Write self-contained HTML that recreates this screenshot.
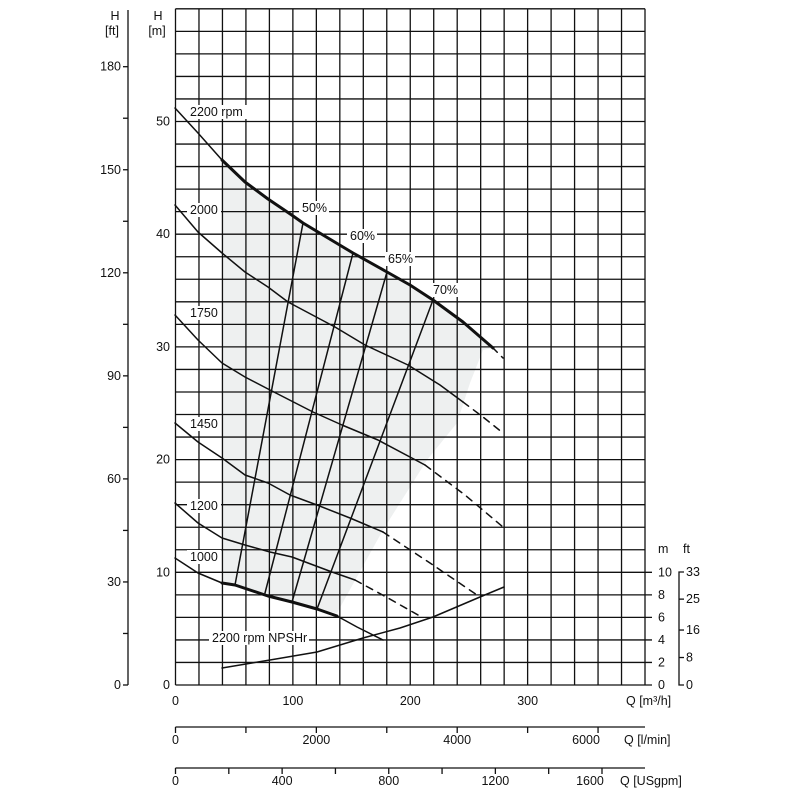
<!DOCTYPE html>
<html><head><meta charset="utf-8"><style>
html,body{margin:0;padding:0;background:#fff;}
svg{display:block;font-family:"Liberation Sans",Arial,sans-serif;font-size:12.5px;fill:#111;}
</style></head><body>
<svg width="800" height="800" viewBox="0 0 800 800" xmlns="http://www.w3.org/2000/svg">
<path d="M222,160 L245,182 L291.7,215 L303,223 L353,253 L387,272 L433,300 L493,348 L483,350 L470,383 L457,423 L427,460 L383,530 L337,613 L317,609 L292,602 L268,596 L235,585 L222,583 Z" fill="#eef0f0" stroke="none"/>
<g id="grid" stroke="#111" stroke-width="1.3"></g>
<g id="lab"></g>
<g fill="none" stroke="#111" stroke-linejoin="round" stroke-linecap="round">
<polyline stroke-width="1.5" points="175,108 198,133 222,160"/>
<polyline stroke-width="3" points="222,160 245,182 268,199 291.7,215 303,223 328,238 353,253 387,272 410,285 433,300 463,322 493,348"/>
<polyline stroke-width="1.5" stroke-dasharray="6,6" points="493,348 503,358"/>
<polyline stroke-width="1.5" points="175,205 198,232 222,253 245,272 268,287 288,302 335,327 365,345 408,365 440,385 463,402"/>
<polyline stroke-width="1.5" stroke-dasharray="7,6" points="463,402 483,417 503,433"/>
<polyline stroke-width="1.5" points="175,315 198,340 222,363 245,377 270,390 313,412 342,425 378,440 425,465"/>
<polyline stroke-width="1.5" stroke-dasharray="7,6" points="425,465 465,495 503,527"/>
<polyline stroke-width="1.5" points="175,423 198,442 222,458 245,475 268,483 290,495 317,505 350,518 383,532"/>
<polyline stroke-width="1.5" stroke-dasharray="7,6" points="383,532 430,563 480,597"/>
<polyline stroke-width="1.5" points="175,503 198,523 222,538 245,545 270,552 292,557 332,572 355,580"/>
<polyline stroke-width="1.5" stroke-dasharray="7,6" points="355,580 388,598 418,615"/>
<polyline stroke-width="1.5" points="175,558 198,573 222,583"/>
<polyline stroke-width="3" points="222,583 235,585 268,596 292,602 317,609 337,616"/>
<polyline stroke-width="1.5" points="337,616 357,627 383,640"/>
<polyline stroke-width="1.5" points="222,668 270,660 317,652 363,638 400,628 433,617 480,597 504,587"/>
<g stroke-width="1.5">
<line x1="303" y1="223" x2="235" y2="585"/>
<line x1="353" y1="253" x2="265" y2="593"/>
<line x1="387" y1="272" x2="292" y2="602"/>
<line x1="433" y1="300" x2="317" y2="609"/>
</g>
</g>
<g id="axes"></g>
<script>
var ns="http://www.w3.org/2000/svg";
function el(p,t,a,txt){var e=document.createElementNS(ns,t);for(var k in a)e.setAttribute(k,a[k]);if(txt!==undefined)e.textContent=txt;p.appendChild(e);return e;}
var g=document.getElementById('grid');
var L=175.5,R=645,T=8.8,B=685;
for(var i=0;i<=20;i++){var x=L+i*23.475;el(g,'line',{x1:x,y1:T,x2:x,y2:B});}
for(var j=0;j<=30;j++){var y=B-j*22.54;var x2=(j<=5)?652:R;el(g,'line',{x1:L,y1:y,x2:x2,y2:y});}
var lab=document.getElementById('lab');
function tl(x,y,t,w){el(lab,'rect',{x:x-3,y:y-11,width:w,height:14,fill:'#fff'});el(lab,'text',{x:x,y:y},t);}
tl(190,116,'2200 rpm',60);tl(190,214,'2000',34);tl(190,317,'1750',34);tl(190,428,'1450',34);
tl(190,510,'1200',34);tl(190,561,'1000',34);tl(302,212,'50%',30);tl(350,240,'60%',30);
tl(388,263,'65%',30);tl(433,294,'70%',30);tl(212,642,'2200 rpm NPSHr',100);
var a=document.getElementById('axes');
el(a,'line',{x1:128,y1:10,x2:128,y2:685,stroke:'#111','stroke-width':1.3});
for(var f=0;f<=180;f+=15){var y=685-f*3.435;el(a,'line',{x1:123,y1:y,x2:128,y2:y,stroke:'#111','stroke-width':1.3});
 if(f%30==0)el(a,'text',{x:121,y:y+4,'text-anchor':'end'},String(f));}
el(a,'text',{x:115,y:20,'text-anchor':'middle'},'H');el(a,'text',{x:112,y:35,'text-anchor':'middle'},'[ft]');
el(a,'text',{x:158,y:20,'text-anchor':'middle'},'H');el(a,'text',{x:157,y:35,'text-anchor':'middle'},'[m]');
for(var m=0;m<=50;m+=10){el(a,'text',{x:170,y:685-m*11.27+4,'text-anchor':'end'},String(m));}
for(var m=0;m<=10;m+=2){el(a,'text',{x:658,y:685-m*11.27+4},String(m));}
el(a,'text',{x:658,y:553},'m');el(a,'text',{x:683,y:553},'ft');
el(a,'polyline',{points:'684,572 679,572 679,685 684,685',fill:'none',stroke:'#111','stroke-width':1.3});
[[8,'8'],[16,'16'],[25,'25']].forEach(function(p){var y=685-p[0]*3.435;el(a,'line',{x1:679,y1:y,x2:684,y2:y,stroke:'#111','stroke-width':1.3});el(a,'text',{x:686,y:y+4},p[1]);});
el(a,'text',{x:686,y:576},'33');el(a,'text',{x:686,y:689},'0');
[0,100,200,300].forEach(function(q){el(a,'text',{x:L+q*1.17375,y:705,'text-anchor':'middle'},String(q));});
el(a,'text',{x:626,y:705},'Q [m³/h]');
el(a,'line',{x1:L,y1:727,x2:R,y2:727,stroke:'#111','stroke-width':1.3});
for(var v=0;v<=6000;v+=1000){var x=L+v*0.06*1.17375;el(a,'line',{x1:x,y1:727,x2:x,y2:733,stroke:'#111','stroke-width':1.3});
 if(v%2000==0)el(a,'text',{x:x+(v==6000?-12:0),y:744,'text-anchor':'middle'},String(v));}
el(a,'text',{x:624,y:744},'Q [l/min]');
el(a,'line',{x1:L,y1:768,x2:R,y2:768,stroke:'#111','stroke-width':1.3});
for(var v=0;v<=1600;v+=200){var x=L+v*0.2271*1.17375;el(a,'line',{x1:x,y1:768,x2:x,y2:774,stroke:'#111','stroke-width':1.3});
 if(v%400==0)el(a,'text',{x:x+(v==1600?-12:0),y:785,'text-anchor':'middle'},String(v));}
el(a,'text',{x:620,y:785},'Q [USgpm]');
</script>
</svg>
</body></html>
